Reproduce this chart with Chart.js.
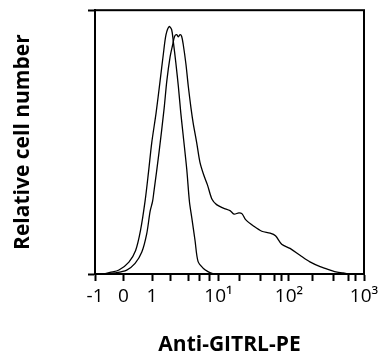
<!DOCTYPE html>
<html>
<head>
<meta charset="utf-8">
<script src="https://cdn.jsdelivr.net/npm/chart.js@4.4.1/dist/chart.umd.min.js"></script>
<style>
    html, body { margin: 0; padding: 0; background: #fff; }
</style>
</head>
<body>
<canvas id="histograma" width="386" height="362"></canvas>
<script>
(function () {
    'use strict';

    // display channels 0..1000 across the x axis (biexponential display)
    var majorTicks  = [0, 106, 212, 459, 721, 1000];
    var majorLabels = ['-1', '0', '1', '10¹', '10²', '10³'];
    var minorTicks  = [279, 349, 390, 424, 539, 617, 669, 695, 807, 888, 941, 970];

    // control (narrow peak)
    var controlX = [30, 56, 89, 126, 151, 169, 186, 199, 211, 227, 242, 254, 264, 276,
                    285, 291, 301, 310, 319, 328, 341, 351, 360, 372, 383, 402, 420, 435, 446];
    var controlY = [0, 0.6, 1.5, 4.5, 8.9, 16.4, 27.5, 38.7, 49.8, 61.0, 73.2, 83.3, 90.7, 93.8,
                    92.6, 88.2, 79.6, 71.0, 61.0, 52.4, 39.8, 27.5, 21.2, 12.6, 4.8, 2.2, 0.9, 0.2, 0];

    // Anti-GITRL-PE stained
    var stainedX = [37, 74, 118, 149, 174, 192, 205, 214, 219, 238, 257, 267, 279, 289, 296,
                    304, 310, 316, 322, 328, 338, 347, 357, 365, 378, 390, 403, 418, 435, 452,
                    477, 502, 517, 535, 547, 560, 589, 620, 651, 671, 694, 725, 762, 799, 837,
                    874, 900, 922, 941];
    var stainedY = [0, 0.4, 1.5, 4.0, 8.3, 15.1, 23.8, 27.5, 31.2, 46.1, 62.8, 73.2, 82.2, 87.0, 90.1,
                    90.7, 89.9, 90.7, 90.1, 87.0, 79.6, 71.0, 62.8, 57.2, 49.8, 42.4, 37.9, 33.8, 28.3, 26.3,
                    25.0, 24.0, 22.7, 23.2, 22.8, 20.6, 18.2, 16.2, 15.5, 14.5, 11.3, 9.7, 7.1, 4.6, 2.8,
                    1.5, 0.7, 0.4, 0];

    function pontos(xs, ys) {
        return xs.map(function (x, i) { return { x: x, y: ys[i] }; });
    }

    var fonte = '"Open Sans", "Noto Sans", sans-serif';

    var moldura = {
        id: 'moldura',
        afterDraw: function (chart) {
            var a = chart.chartArea;
            var ctx = chart.ctx;
            ctx.save();
            ctx.strokeStyle = '#000';
            ctx.lineWidth = 2;
            ctx.strokeRect(a.left, a.top, a.right - a.left, a.bottom - a.top);
            ctx.restore();
        }
    };

    var linha = {
        borderColor: '#000',
        borderWidth: 1.3,
        pointRadius: 0,
        tension: 0.3,
        fill: false
    };

    new Chart(document.getElementById('histograma'), {
        type: 'line',
        data: {
            datasets: [
                Object.assign({ label: 'Control', data: pontos(controlX, controlY) }, linha),
                Object.assign({ label: 'Anti-GITRL-PE', data: pontos(stainedX, stainedY) }, linha)
            ]
        },
        options: {
            responsive: false,
            animation: false,
            devicePixelRatio: 1,
            layout: { padding: { top: 5, right: 22, left: 0, bottom: 0 } },
            plugins: {
                legend: { display: false },
                tooltip: { enabled: false }
            },
            scales: {
                x: {
                    type: 'linear',
                    min: 0,
                    max: 1000,
                    afterBuildTicks: function (scale) {
                        scale.ticks = majorTicks.concat(minorTicks)
                            .sort(function (a, b) { return a - b; })
                            .map(function (v) { return { value: v }; });
                    },
                    afterFit: function (scale) { scale.height = 88; },
                    ticks: {
                        autoSkip: false,
                        maxRotation: 0,
                        padding: 4,
                        color: '#000',
                        font: { family: fonte, size: 19 },
                        callback: function (value) {
                            var i = majorTicks.indexOf(value);
                            return i >= 0 ? majorLabels[i] : '';
                        }
                    },
                    grid: {
                        drawOnChartArea: false,
                        drawTicks: true,
                        tickLength: 7,
                        tickColor: '#000',
                        tickWidth: 2,
                        color: '#000'
                    },
                    border: { color: '#000', width: 2 },
                    title: {
                        display: true,
                        text: 'Anti-GITRL-PE',
                        color: '#000',
                        font: { family: fonte, size: 21, weight: 'bold' },
                        padding: { top: 0, bottom: 4 }
                    }
                },
                y: {
                    min: 0,
                    max: 100,
                    afterFit: function (scale) { scale.width = 95; },
                    ticks: {
                        stepSize: 100,
                        callback: function () { return ''; }
                    },
                    grid: {
                        drawOnChartArea: false,
                        drawTicks: true,
                        tickLength: 7,
                        tickColor: '#000',
                        tickWidth: 2,
                        color: '#000'
                    },
                    border: { color: '#000', width: 2 },
                    title: {
                        display: true,
                        text: 'Relative cell number',
                        color: '#000',
                        font: { family: fonte, size: 21, weight: 'bold' },
                        padding: { top: 10, bottom: 0 }
                    }
                }
            }
        },
        plugins: [moldura]
    });
})();
</script>
</body>
</html>
